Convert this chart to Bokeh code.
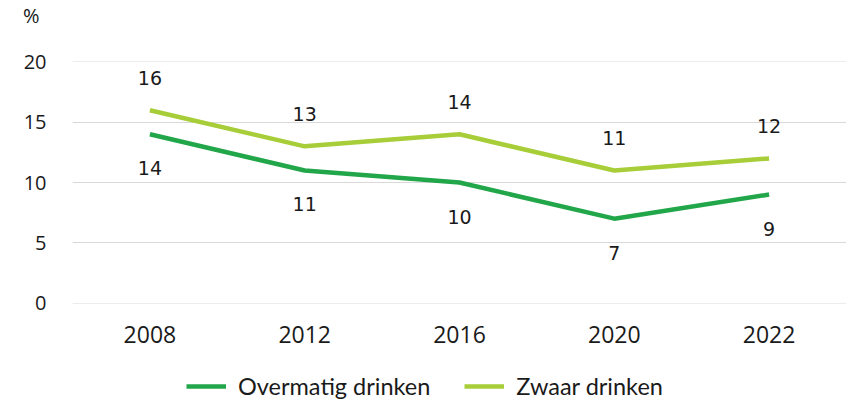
from bokeh.plotting import figure
from bokeh.layouts import column
from bokeh.models import ColumnDataSource, Legend, LegendItem, Range1d, FixedTicker
from bokeh.core.properties import value
from bokeh.embed import file_html
from bokeh.resources import INLINE

years = ["2008", "2012", "2016", "2020", "2022"]
overmatig = [14, 11, 10, 7, 9]
zwaar = [16, 13, 14, 11, 12]
y_ticks = [0, 5, 10, 15, 20]
series_names = ["Overmatig drinken", "Zwaar drinken"]
unit_label = "%"

DARK = "#22A64A"
LIGHT = "#A7CE38"
TXT = "#1a1a1a"

src = ColumnDataSource(dict(
    x=years, o=overmatig, z=zwaar,
    ol=[str(v) for v in overmatig], zl=[str(v) for v in zwaar],
))

# top strip carrying the unit label on its own left axis
top = figure(width=848, height=30, x_range=Range1d(0, 1), y_range=Range1d(0, 1),
             output_backend="svg", toolbar_location=None, x_axis_type=None,
             min_border_left=72, min_border_right=2, min_border_top=0, min_border_bottom=0)
top.outline_line_color = None
top.xgrid.grid_line_color = None
top.ygrid.grid_line_color = None
top.yaxis.ticker = FixedTicker(ticks=[0.4])
top.yaxis.major_label_overrides = {0.4: unit_label}
top.yaxis.axis_line_color = None
top.yaxis.major_tick_line_color = None
top.yaxis.minor_tick_line_color = None
top.yaxis.major_label_text_font = "Open Sans"
top.yaxis.major_label_text_font_size = "20px"
top.yaxis.major_label_text_color = TXT
top.yaxis.major_label_standoff = 27

p = figure(x_range=years, y_range=Range1d(-0.04, 20.04), width=848, height=332,
           output_backend="svg", toolbar_location=None,
           min_border_left=72, min_border_right=2, min_border_top=31, min_border_bottom=59)
p.outline_line_color = None
p.xgrid.grid_line_color = None
p.ygrid.grid_line_color = "#D9D9D9"
p.ygrid.grid_line_width = 1.2
p.yaxis.ticker = FixedTicker(ticks=y_ticks)

for ax in (p.xaxis, p.yaxis):
    ax.axis_line_color = None
    ax.major_tick_line_color = None
    ax.minor_tick_line_color = None
    ax.major_label_text_font = "Open Sans"
    ax.major_label_text_color = TXT
p.yaxis.major_label_text_font_size = "20px"
p.yaxis.major_label_standoff = 20
p.xaxis.major_label_text_font_size = "23px"
p.xaxis.major_label_standoff = 16

p.line("x", "o", source=src, line_color=DARK, line_width=4.5)
p.line("x", "z", source=src, line_color=LIGHT, line_width=4.5)

p.text("x", "z", text="zl", source=src, text_align="center", text_baseline="middle",
       y_offset=-32, text_font=value("DejaVu Sans"), text_font_size="19px", text_color=TXT)
p.text("x", "o", text="ol", source=src, text_align="center", text_baseline="middle",
       y_offset=34, text_font=value("DejaVu Sans"), text_font_size="19px", text_color=TXT)

# legend strip (series drawn outside its visible range, only the legend shows)
idx = list(range(len(years)))
lg = figure(width=848, height=38, x_range=Range1d(0, 1), y_range=Range1d(0, 1),
            output_backend="svg", toolbar_location=None, x_axis_type=None, y_axis_type=None,
            min_border_left=0, min_border_right=0, min_border_top=0, min_border_bottom=0)
lg.outline_line_color = None
lg.xgrid.grid_line_color = None
lg.ygrid.grid_line_color = None
k1 = lg.line(x=idx, y=overmatig, line_color=DARK, line_width=4.5)
k2 = lg.line(x=idx, y=zwaar, line_color=LIGHT, line_width=4.5)
legend = Legend(items=[LegendItem(label=series_names[0], renderers=[k1]),
                       LegendItem(label=series_names[1], renderers=[k2])],
                orientation="horizontal", location=(114, 0),
                glyph_width=40, glyph_height=20, label_standoff=12, spacing=34,
                padding=0, margin=0, border_line_color=None, background_fill_alpha=0,
                label_text_font="Lato", label_text_font_size="23.5px", label_text_color=TXT)
lg.add_layout(legend, "center")

layout = column(top, p, lg, spacing=0)
open("out.html", "w").write(file_html(layout, INLINE))
